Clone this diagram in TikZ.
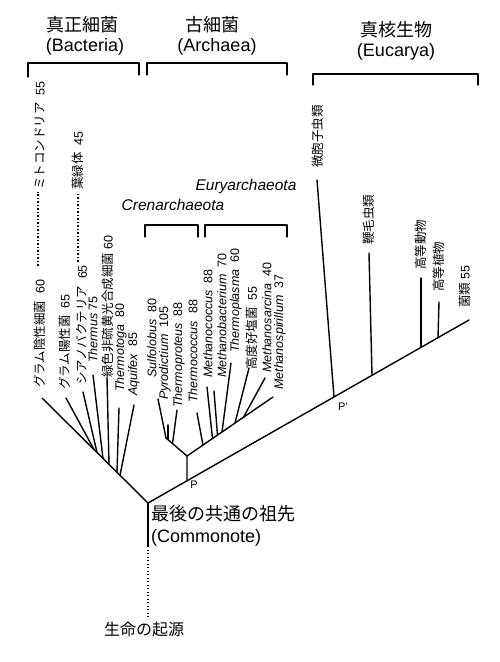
\documentclass[tikz,border=0pt]{standalone}
\usepackage{fontspec}
\setmainfont{Liberation Sans}
\newfontfamily\jp{Noto Sans CJK JP}
\usetikzlibrary{calc}

\tikzset{
	branch/.style={line width=1.4pt},
	brace/.style={line width=1.1pt},
	dotline/.style={line width=1.4pt, line cap=butt, dash pattern=on 1.4pt off 2.1pt},
	leaf/.style={rotate=90, anchor=west, inner sep=0pt, font=\fontsize{12.5}{14}\selectfont},
	head/.style={inner sep=0pt, font=\fontsize{18}{20}\selectfont},
}

\begin{document}
\begin{tikzpicture}[x=1pt, y=-1pt, line cap=round, line join=round]
	\useasboundingbox (0,0) rectangle (500,662);

	% Заголовки доменов
	\node[head] (hdBact) at (82,25) {\jp 真正細菌};
	\node[head] (hdBactEn) at (85,47) {(Bacteria)};
	\node[head] (hdArch) at (212,25) {\jp 古細菌};
	\node[head] (hdArchEn) at (217,47) {(Archaea)};
	\node[head] (hdEuk) at (396,30) {\jp 真核生物};
	\node[head] (hdEukEn) at (396,52) {(Eucarya)};

	% Скобки доменов
	\draw[brace] (28,77) -- (28,63) -- (139,63) -- (139,75);
	\draw[brace] (147,75) -- (147,63) -- (287,63) -- (287,75);
	\draw[brace] (313,85) -- (313,74) -- (478,74) -- (478,85);

	% Подгруппы архей
	\draw[brace] (145,237) -- (145,225) -- (198,225) -- (198,237);
	\draw[brace] (205,237) -- (205,225) -- (287,225) -- (287,237);
	\node[inner sep=0pt, font=\fontsize{15.5}{17}\itshape] (crenLab) at (173,205) {Crenarchaeota};
	\node[inner sep=0pt, font=\fontsize{15.5}{17}\itshape] (euryLab) at (246,186) {Euryarchaeota};

	% Узлы дерева
	\coordinate (root) at (148,503);
	\coordinate (base) at (148,546);
	\coordinate (bact) at (42,398);
	\coordinate (P) at (187,481);
	\coordinate (Pp) at (334,397);
	\coordinate (euk) at (469,320);
	\coordinate (arch) at (187,456);
	\coordinate (cren) at (166,438);
	\coordinate (eury) at (273,397);

	% Стволы
	\draw[branch] (bact) -- (root) -- (euk);
	\draw[branch] (root) -- (base);
	\draw[branch] (P) -- (arch) -- (cren);
	\draw[branch] (arch) -- (eury);

	% Листья: кончик / точка ветвления
	\foreach \n/\tx/\ty/\jx/\jy in {gpos/66/398/94/449.5, cyano/83/392/97/452.5,
		thermus/93/375/103/458.5, green/107/377/109/464.4, toga/119/408/117/472.3,
		aqui/134/405/120/475.3, sulfo/158/399/166/438, pyro/168/425/168/439.5,
		tprot/177/410/172.5/443.5, tcocc/197/413/203/445, mcocc/207/387/212.5/438.5,
		mbact/214/391/217.5/435.1, tplas/231/363/222/432, halo/249/368/235/423,
		msarc/265/378/243.5/417.2, micro/317/180/334/397, flag/369/253/372/375.3,
		anim/421/278/421/347.4, plant/439/302/438/337.7} {
		\coordinate (tip-\n) at (\tx,\ty);
		\coordinate (join-\n) at (\jx,\jy);
		\draw[branch] (join-\n) -- (tip-\n);
	}

	% Подписи листьев
	\foreach \x/\y/\txt [count=\i] in {
		40/388/{{\jp グラム陰性細菌}\ \ 60},
		65/390/{{\jp グラム陽性菌}\ \ 65},
		82/385/{{\jp シアノバクテリア}\ \ 65},
		93/363/{\textit{Thermus} 75},
		108/378/{{\jp 緑色非硫黄光合成細菌} 60},
		121/392/{\textit{Thermotoga}\ \ 80},
		134/396/{\textit{Aquifex}\ \ 85},
		152/378/{\textit{Sulfolobus}\ \ 80},
		165/400/{\textit{Pyrodictium}\ \ 105},
		179/408/{\textit{Thermoproteus}\ \ 88},
		193/403/{\textit{Thermococcus}\ \ 88},
		208/378/{\textit{Methanococcus}\ \ 88},
		222/378/{\textit{Methanobacterium}\ \ 70},
		236/353/{\textit{Thermoplasma}\ \ 60},
		252/370/{{\jp 高度好塩菌}\ \ 55},
		267/373/{\textit{Methanosarcina}\ \ 40},
		280/390/{\textit{Methanospirillum}\ \ 37},
		318/168/{\jp 微胞子虫類},
		369/245/{\jp 鞭毛虫類},
		421/270/{\jp 高等動物},
		439/292/{\jp 高等植物},
		465/308/{{\jp 菌類} 55},
		40/190/{{\jp ミトコンドリア}\ \ 55},
		78/190/{{\jp 葉緑体}\ \ 45}} {
		\node[leaf] (lab\i) at (\x,\y) {\txt};
	}

	% Эндосимбиоз
	\draw[dotline, shorten <=14pt, shorten >=2pt] (lab1.east -| 38,0) -- (lab23.west -| 38,0);
	\draw[dotline, shorten <=3pt, shorten >=3pt] (lab3.east -| 78,0) -- (lab24.west -| 78,0);

	% Точки P и P'
	\node[inner sep=0pt, font=\fontsize{11}{12}\selectfont] (Plab) at (194,485) {P};
	\node[inner sep=0pt, font=\fontsize{11}{12}\selectfont] (Pplab) at (343,407) {P'};

	% Общий предок и начало жизни
	\node[anchor=west, inner sep=0pt, font=\fontsize{18}{20}\selectfont] (lca) at (151,514) {\jp 最後の共通の祖先};
	\node[anchor=west, inner sep=0pt, font=\fontsize{18}{20}\selectfont] (lcaEn) at (151,538) {(Commonote)};
	\node[inner sep=0pt, font=\fontsize{16}{18}\selectfont] (originLab) at (144,629) {\jp 生命の起源};
	\draw[dotline, shorten >=5pt] (base) -- (originLab.north -| base);
\end{tikzpicture}
\end{document}
